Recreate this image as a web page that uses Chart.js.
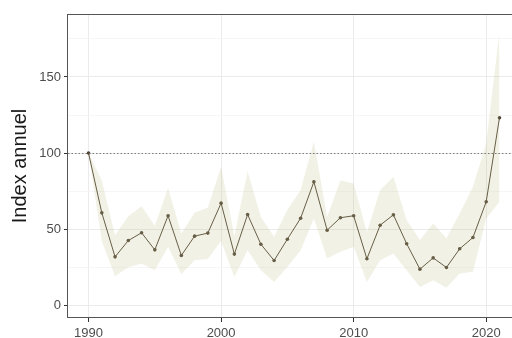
<!DOCTYPE html>
<html>
<head>
<meta charset="utf-8">
<script src="https://cdn.jsdelivr.net/npm/chart.js@4/dist/chart.umd.min.js"></script>
<style>
  html, body { margin: 0; padding: 0; background: #ffffff; overflow: hidden; }
  #wrap { position: relative; width: 524px; height: 338px; }
</style>
</head>
<body>
<div id="wrap"><canvas id="c"></canvas></div>
<script>
// Annual index, 1990 = 100, with its confidence band
const years = [1990, 1991, 1992, 1993, 1994, 1995, 1996, 1997, 1998, 1999,
               2000, 2001, 2002, 2003, 2004, 2005, 2006, 2007, 2008, 2009,
               2010, 2011, 2012, 2013, 2014, 2015, 2016, 2017, 2018, 2019,
               2020, 2021];
const indexValues = [100, 60.7, 31.8, 42.5, 47.6, 36.4, 58.8, 32.7, 45.4, 47.4,
                     67.1, 33.6, 59.6, 40.1, 29.4, 43.4, 57.2, 81.1, 49.3, 57.5,
                     58.8, 30.5, 52.6, 59.4, 40.4, 23.7, 31.1, 24.8, 37.1, 44.5,
                     68.0, 123.2];
const upperValues = [100, 82, 46, 58.5, 65, 52, 77, 47, 61, 64,
                     91, 45.5, 88, 58, 45, 62.5, 75.7, 107.5, 58, 82,
                     80, 48, 75.7, 84.4, 55.9, 42.8, 53.7, 44, 60.3, 77.8,
                     106.4, 179.5];
const lowerValues = [100, 42, 19.1, 25, 27.5, 23, 38.4, 20.6, 29.6, 30.4,
                     42.2, 18.6, 36.2, 23, 15.3, 25.2, 36.2, 57, 30.7, 35.1,
                     38.4, 15.3, 29.6, 34, 23, 12, 16.4, 11.5, 20.8, 22,
                     57, 68];
const referenceValue = 100;
const yTickValues = [0, 25, 50, 75, 100, 125, 150, 175];
const yLabelledTicks = [0, 50, 100, 150];
const xTickValues = [1990, 2000, 2010, 2020];

const pts = arr => years.map((y, i) => ({ x: y, y: arr[i] }));

const lineColor = '#4f4332';
const bandColor = 'rgba(190, 190, 140, 0.22)';

// dotted reference line and panel frame
const panelPlugin = {
  id: 'panel',
  afterDatasetsDraw(chart) {
    const { ctx, chartArea: a, scales } = chart;
    const yRef = Math.round(scales.y.getPixelForValue(referenceValue)) + 0.5;
    ctx.save();
    ctx.strokeStyle = '#6e6e6e';
    ctx.lineWidth = 0.9;
    ctx.setLineDash([1.5, 2]);
    ctx.beginPath();
    ctx.moveTo(a.left, yRef);
    ctx.lineTo(a.right, yRef);
    ctx.stroke();
    ctx.restore();
  },
  afterDraw(chart) {
    const { ctx, chartArea: a } = chart;
    ctx.save();
    ctx.strokeStyle = '#555555';
    ctx.lineWidth = 1;
    ctx.strokeRect(Math.round(a.left) - 0.5, Math.round(a.top) + 0.5,
                   Math.round(a.right - a.left) + 1, Math.round(a.bottom - a.top) - 1);
    ctx.restore();
  }
};

new Chart(document.getElementById('c'), {
  type: 'line',
  data: {
    datasets: [
      {
        label: 'lower',
        data: pts(lowerValues),
        borderWidth: 0,
        pointRadius: 0,
        fill: false,
        tension: 0
      },
      {
        label: 'upper',
        data: pts(upperValues),
        borderWidth: 0,
        pointRadius: 0,
        backgroundColor: bandColor,
        fill: '-1',
        tension: 0
      },
      {
        label: 'index',
        data: pts(indexValues),
        borderColor: lineColor,
        borderWidth: 1,
        pointRadius: 1.8,
        pointBackgroundColor: lineColor,
        pointBorderWidth: 0,
        fill: false,
        tension: 0
      }
    ]
  },
  options: {
    responsive: true,
    maintainAspectRatio: false,
    devicePixelRatio: 1,
    animation: false,
    layout: { padding: { top: 14, right: 0, left: 0, bottom: 0 } },
    plugins: {
      legend: { display: false },
      tooltip: { enabled: false }
    },
    scales: {
      x: {
        type: 'linear',
        min: 1988.45,
        max: 2022.55,
        afterBuildTicks: s => { s.ticks = xTickValues.map(v => ({ value: v })); },
        afterFit: s => { s.height = 20; },
        border: { display: false },
        grid: {
          color: '#ebebeb',
          lineWidth: 1,
          tickLength: 4,
          tickColor: '#333333',
          tickWidth: 1
        },
        ticks: {
          padding: 4,
          color: '#4d4d4d',
          font: { family: 'Liberation Sans, Arial, sans-serif', size: 13 },
          maxRotation: 0,
          callback: v => String(v)
        }
      },
      y: {
        type: 'linear',
        min: -8.4,
        max: 191.4,
        afterBuildTicks: s => { s.ticks = yTickValues.map(v => ({ value: v })); },
        afterFit: s => { s.width = 68; },
        border: { display: false },
        grid: {
          color: c => yLabelledTicks.includes(c.tick.value) ? '#ebebeb' : '#f4f4f4',
          lineWidth: c => yLabelledTicks.includes(c.tick.value) ? 1 : 0.8,
          tickLength: 4,
          tickColor: c => yLabelledTicks.includes(c.tick.value) ? '#333333' : 'rgba(0,0,0,0)',
          tickWidth: 1
        },
        ticks: {
          padding: 3,
          color: '#4d4d4d',
          font: { family: 'Liberation Sans, Arial, sans-serif', size: 13 },
          callback: v => yLabelledTicks.includes(v) ? String(v) : ''
        },
        title: {
          display: true,
          text: 'Index annuel',
          color: '#1a1a1a',
          font: { family: 'Liberation Sans, Arial, sans-serif', size: 20 },
          padding: { top: 8, bottom: 0 }
        }
      }
    }
  },
  plugins: [panelPlugin]
});
</script>
</body>
</html>
